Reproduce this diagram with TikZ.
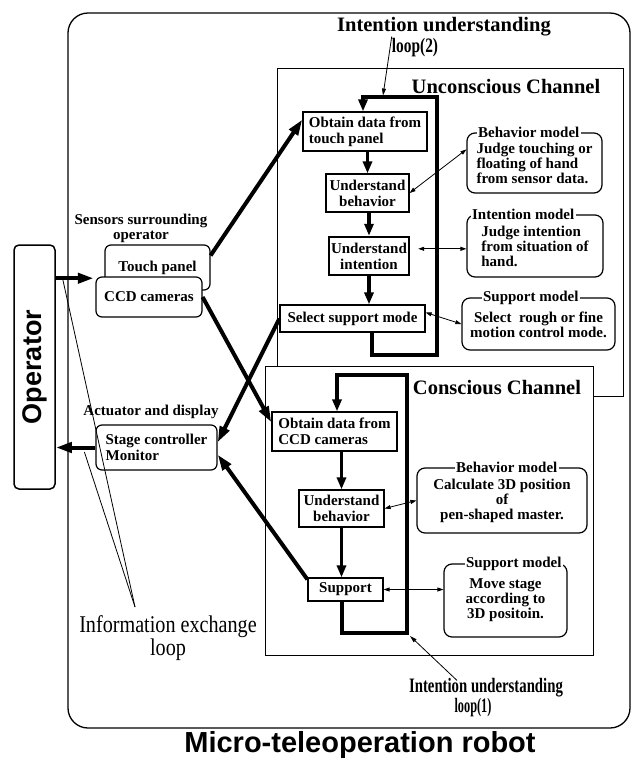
\documentclass[tikz,border=0pt]{standalone}
\usepackage{fontspec}
\usepackage{graphicx}
\setmainfont{Liberation Serif}
\newfontfamily\headsans{Liberation Sans}
\usetikzlibrary{arrows.meta,calc}

\begin{document}
\begin{tikzpicture}[x=1pt,y=-1pt,
  boxfont/.style={font=\fontsize{15}{16}\selectfont\bfseries},
  pbox/.style={draw, line width=1.2pt, fill=white, inner sep=0pt, boxfont, align=center},
  rbox/.style={pbox, rounded corners=6pt},
  mbox/.style={draw, line width=1.2pt, rounded corners=8pt, fill=white, inner sep=0pt,
               font=\fontsize{15}{15}\selectfont\bfseries},
  mtitle/.style={fill=white, inner xsep=1.5pt, inner ysep=0pt, anchor=west,
                 font=\fontsize{15}{15}\selectfont\bfseries},
  chan/.style={draw, line width=0.9pt},
  flow/.style={line width=3.5pt, -{Triangle[length=12pt,width=9pt]}},
  loopline/.style={line width=4pt, -{Triangle[length=12pt,width=9pt]}},
  link/.style={line width=4pt, -{Triangle[length=16pt,width=10pt]}},
  dual/.style={line width=0.8pt, {Triangle[length=6pt,width=4pt]}-{Triangle[length=6pt,width=4pt]}},
  pointer/.style={line width=0.8pt, -{Triangle[length=7pt,width=4pt]}},
  hairline/.style={line width=0.8pt},
  note/.style={font=\fontsize{15}{15}\selectfont\bfseries, inner sep=0pt, align=center},
  head/.style={font=\fontsize{20.5}{22}\selectfont\bfseries, inner sep=0pt},
]
\useasboundingbox (0,0) rectangle (635,761);

% frame of the robot system and the two channels
\draw[line width=1.3pt, rounded corners=20pt] (68,13) rectangle (630,728);
\draw[chan] (277,68) rectangle (623,396);
\filldraw[chan, fill=white] (265,366) rectangle (593,655);

% operator
\node[draw, line width=1.5pt, rounded corners=5pt, minimum width=41pt, minimum height=244pt,
      inner sep=0pt, font={\headsans\fontsize{27}{27}\selectfont\bfseries}]
      (op) at (34.5,367) {\rotatebox{90}{Operator}};

% sensors and actuators
\node[note] (senslbl) at (141,228) {Sensors surrounding\\operator};
\node[rbox, minimum width=105pt, minimum height=45pt] (tp) at (157.5,267.5) {\raisebox{3pt}{Touch panel}};
\node[rbox, minimum width=106pt, minimum height=40pt] (ccd) at (149,297) {CCD cameras};
\node[note] (actlbl) at (151,412) {Actuator and display};
\node[rbox, minimum width=121pt, minimum height=45pt, align=left] (stg) at (156.5,447.5) {Stage controller\\Monitor};

% unconscious channel
\node[head] (unctitle) at (506,87) {Unconscious Channel};
\node[pbox, minimum width=124pt, minimum height=39pt, align=left] (ob1) at (365,131.5) {Obtain data from\\touch panel};
\node[pbox, minimum width=83pt, minimum height=38pt] (ub1) at (367.5,193) {Understand\\behavior};
\node[pbox, line width=2.4pt, minimum width=80pt, minimum height=38pt] (ui1) at (369,256) {Understand\\intention};
\node[pbox, minimum width=145pt, minimum height=27pt] (sel) at (352.5,318.5) {Select support mode};

\node[mbox, minimum width=135pt, minimum height=60pt, align=left] (bm1) at (534.5,163) {Judge touching or\\floating of hand\\from sensor data.};
\node[mtitle] (bm1t) at ($(bm1.north west)+(10,0)$) {Behavior model};
\node[mbox, minimum width=136pt, minimum height=62pt, align=left] (im1) at (535,246) {Judge intention\\from situation of\\hand.};
\node[mtitle] (im1t) at ($(im1.north west)+(4,0)$) {Intention model};
\node[mbox, minimum width=153pt, minimum height=52pt, align=center] (sm1) at (538.5,324) {\rule{0pt}{13pt}Select\enspace rough or fine\\motion control mode.};
\node[mtitle] (sm1t) at ($(sm1.north west)+(20,0)$) {Support model};

% conscious channel
\node[head] (contitle) at (497,388) {Conscious Channel};
\node[pbox, minimum width=125pt, minimum height=39pt, align=left] (ob2) at (334.5,431.5) {Obtain data from\\CCD cameras};
\node[pbox, minimum width=85pt, minimum height=37pt] (ub2) at (341.5,508.5) {Understand\\behavior};
\node[pbox, minimum width=75pt, minimum height=23pt] (sup) at (345.5,589.5) {Support};

\node[mbox, minimum width=170pt, minimum height=65pt, align=center] (bm2) at (502,500.5) {\rule{0pt}{9pt}Calculate 3D position\\of\\pen-shaped master.};
\node[mtitle] (bm2t) at ($(bm2.north west)+(38,0)$) {Behavior model};
\node[mbox, minimum width=123pt, minimum height=73pt, align=center] (sm2) at (505.5,600.5) {\rule{0pt}{8pt}Move stage\\according to\\3D positoin.};
\node[mtitle] (sm2t) at ($(sm2.north west)+(21,0)$) {Support model};

% flow inside the channels
\draw[flow] (ob1.south -| ub1.north) -- (ub1.north);
\draw[flow] (ub1.south -| ui1.north) -- (ui1.north);
\draw[flow] (ui1.south) -- (ui1.south |- sel.north);
\draw[flow] (ob2.south -| ub2.north) -- (ub2.north);
\draw[flow] (ub2.south) -- (ub2.south |- sup.north);

% intention understanding loops
\coordinate (ua) at (372,355);
\coordinate (ub) at (437,355);
\coordinate (uc) at (437,97);
\coordinate (ud) at (363,97);
\draw[loopline] (ua |- sel.south) -- (ua) -- (ub) -- (uc) -- (ud) -- (ud |- ob1.north);
\coordinate (ca) at (342,633);
\coordinate (cb) at (407,633);
\coordinate (cc) at (407,375);
\coordinate (cd) at (337,375);
\draw[loopline] (ca |- sup.south) -- (ca) -- (cb) -- (cc) -- (cd) -- (cd |- ob2.north);

% links between channel steps and models
\draw[dual] ($(bm1.north west)+(0,17)$) -- (ub1.east);
\coordinate (uiout) at ($(ui1.north east)+(8,13)$);
\draw[dual] (uiout) -- (uiout -| im1.west);
\draw[dual] ($(sel.east)+(0,-6)$) -- (sm1.west);
\draw[dual] (bm2.west) -- (ub2.east);
\draw[dual] (sup.east) -- (sup.east -| sm2.west);

% links to sensors and actuators
\draw[link] ($(tp.east)+(0,-12)$) -- ($(ob1.north west)+(0,8)$);
\draw[link] (ccd.east) -- ($(ob2.north west)+(0,11)$);
\draw[link] (sel.west) -- ($(stg.north east)+(0,18)$);
\draw[link] ($(sup.north west)+(0,2)$) -- ($(stg.east)+(0,7)$);
\draw[link] ($(op.north east)+(0,34)$) -- ++(38,0);
\draw[link] (stg.west) -- (stg.west -| op.east);

% loop labels
\node[head] (l2a) at (444,27) {Intention understanding};
\node[head] (l2b) at (415,48) {\scalebox{0.75}[1]{loop(2)}};
\coordinate (l2tip) at (383,95.5);
\draw[pointer] ($(l2b.north west)+(0,-2)$) -- (l2tip);

\node[head] (l1a) at (486,688) {\scalebox{0.72}[1]{Intention understanding}};
\node[head] (l1b) at (473,708) {\scalebox{0.6}[1]{loop(1)}};
\coordinate (l1tip) at (410,636);
\draw[pointer] ($(l1a.north)+(-29,2)$) -- (l1tip);

% information exchange loop
\node[font=\fontsize{24}{21}\selectfont, inner sep=0pt, align=center] (iel) at (168,638)
  {\scalebox{0.84}[1]{Information exchange}\\\scalebox{0.84}[1]{loop}};
\coordinate (ietip) at (135,607);
\draw[hairline] (ietip) -- ($(op.north east)+(7,35)$);
\draw[hairline] (ietip) -- ($(stg.west)+(-11,4.5)$);

% caption
\node[font={\headsans\fontsize{29}{29}\selectfont\bfseries}, inner sep=0pt] (ttl) at (360,745) {Micro-teleoperation robot};
\end{tikzpicture}
\end{document}
